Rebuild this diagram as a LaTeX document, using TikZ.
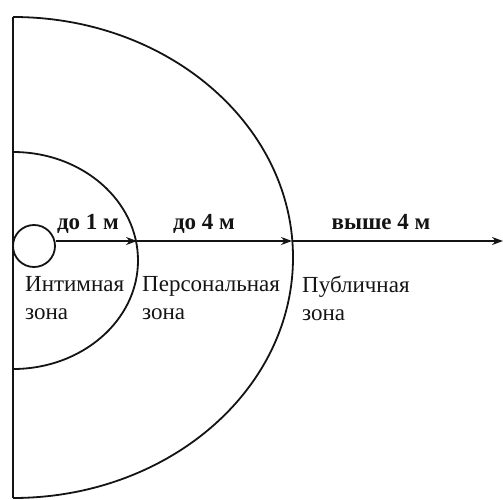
\documentclass[tikz,border=0pt]{standalone}
\usepackage{fontspec}
\setmainfont{Liberation Serif}
\usetikzlibrary{positioning, arrows.meta}
\definecolor{Ink}{HTML}{141414}
\tikzset{
    ring/.style={draw=Ink, line width=1.8pt},
    arrow/.style={-{Stealth[length=11pt, width=8pt]}, line width=1.8pt, color=Ink},
    distlabel/.style={anchor=base, inner sep=0pt, text=Ink, font=\bfseries\fontsize{23}{28}\selectfont},
    zonelabel/.style={anchor=north west, inner sep=0pt, align=left, text=Ink, font=\fontsize{23}{28}\selectfont},
}
\begin{document}
\begin{tikzpicture}[x=1pt, y=1pt]
    \useasboundingbox (0,0) rectangle (503,499);
    % Ось
    \draw[ring] (13,1) -- (13,482);

    % Зоны
    \draw[ring] (13,482) arc[start angle=90, end angle=-90, x radius=280, y radius=240.5];
    \draw[ring] (13,347) arc[start angle=90, end angle=-90, x radius=125, y radius=108.5];
    \node[ring, circle, minimum size=42pt, inner sep=0pt] (self) at (34,253) {};

    % Стрелка расстояния
    \coordinate (near) at (137,258);
    \coordinate (far) at (292,258);
    \coordinate (tip) at (503,258);
    \draw[arrow] (self.east |- near) -- (near);
    \draw[arrow] (near) -- (far);
    \draw[arrow] (far) -- (tip);

    % Подписи
    \node[distlabel] (d1) at (88,270) {до 1 м};
    \node[distlabel] (d4) at (204,270) {до 4 м};
    \node[distlabel] (d5) at (381,270) {выше 4 м};

    \node[zonelabel] (intim) at (25,223) {Интимная\\зона};
    \node[zonelabel] (pers) at (142,223) {Персональная\\зона};
    \node[zonelabel] (publ) at (302,223) {Публичная\\зона};
\end{tikzpicture}
\end{document}
